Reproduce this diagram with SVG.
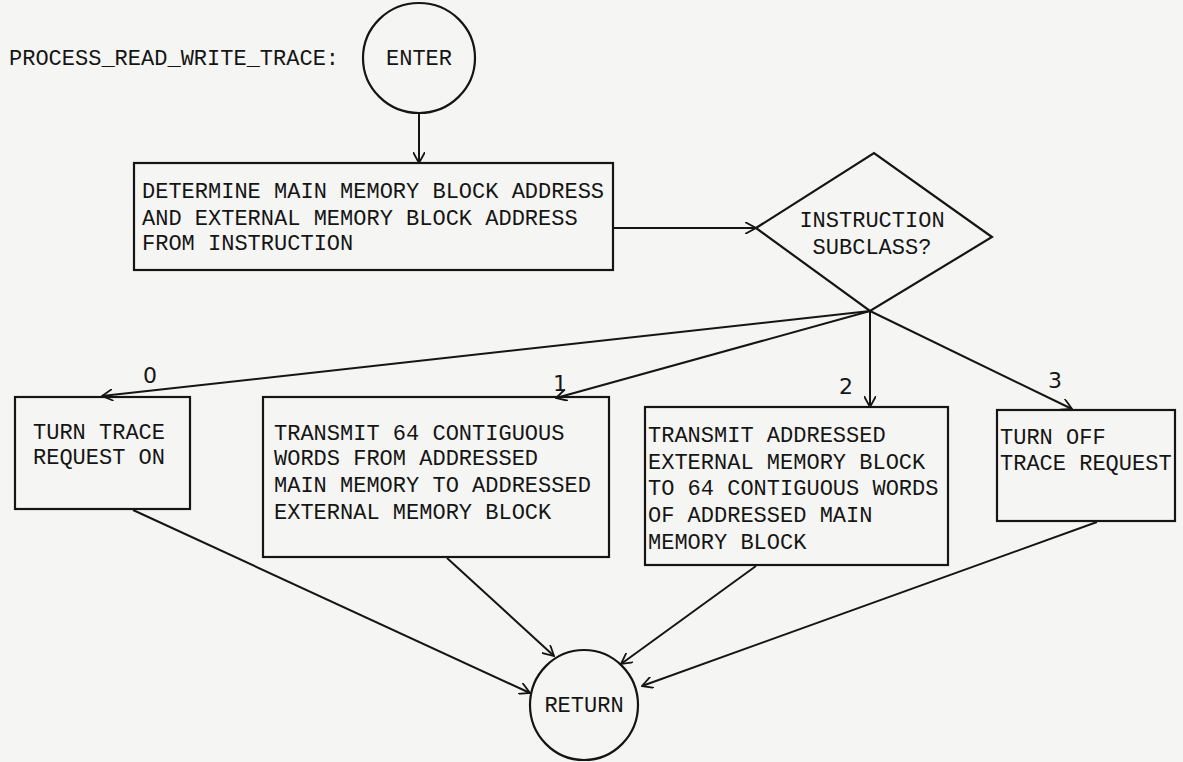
<svg xmlns="http://www.w3.org/2000/svg" width="1183" height="762" viewBox="0 0 1183 762">
  <style>
    .ln { fill: none; stroke: #151515; stroke-width: 2; }
    .shape { fill: none; stroke: #151515; stroke-width: 2.2; }
    .tx { font-family: "Liberation Mono", "DejaVu Sans Mono", monospace; font-size: 22px; fill: #151515; }
    .hand { font-family: "DejaVu Sans", sans-serif; font-size: 22px; fill: #151515; }
  </style>
  <defs>
    <marker id="arr" viewBox="0 0 12 12" refX="11" refY="6" markerWidth="12" markerHeight="12" markerUnits="userSpaceOnUse" orient="auto">
      <path d="M0,0 L11,6 L0,12" fill="none" stroke="#151515" stroke-width="1.8"/>
    </marker>
  </defs>
  <rect width="1183" height="762" fill="#f5f5f3"/>

  <text class="tx" x="9" y="65">PROCESS_READ_WRITE_TRACE:</text>

  <g id="enter">
    <ellipse class="shape" cx="419" cy="58" rx="56" ry="55"/>
    <text class="tx" x="419" y="65" text-anchor="middle">ENTER</text>
  </g>

  <g id="determine">
    <rect class="shape" x="134" y="163" width="479" height="107"/>
    <text class="tx" x="142" y="198">DETERMINE MAIN MEMORY BLOCK ADDRESS</text>
    <text class="tx" x="142" y="225">AND EXTERNAL MEMORY BLOCK ADDRESS</text>
    <text class="tx" x="142" y="250">FROM INSTRUCTION</text>
  </g>

  <g id="subclass">
    <polygon class="shape" points="756,228 874,153 992,237 870,311"/>
    <text class="tx" x="872" y="227" text-anchor="middle">INSTRUCTION</text>
    <text class="tx" x="872" y="254" text-anchor="middle">SUBCLASS?</text>
  </g>

  <g id="trace-on">
    <rect class="shape" x="15" y="397" width="175" height="112"/>
    <text class="tx" x="33" y="439">TURN TRACE</text>
    <text class="tx" x="33" y="464">REQUEST ON</text>
  </g>

  <g id="main-to-external">
    <rect class="shape" x="263" y="397" width="346" height="160"/>
    <text class="tx" x="274" y="440">TRANSMIT 64 CONTIGUOUS</text>
    <text class="tx" x="274" y="465">WORDS FROM ADDRESSED</text>
    <text class="tx" x="274" y="492">MAIN MEMORY TO ADDRESSED</text>
    <text class="tx" x="274" y="519">EXTERNAL MEMORY BLOCK</text>
  </g>

  <g id="external-to-main">
    <rect class="shape" x="645" y="407" width="303" height="158"/>
    <text class="tx" x="648" y="442">TRANSMIT ADDRESSED</text>
    <text class="tx" x="648" y="469">EXTERNAL MEMORY BLOCK</text>
    <text class="tx" x="648" y="495">TO 64 CONTIGUOUS WORDS</text>
    <text class="tx" x="648" y="522">OF ADDRESSED MAIN</text>
    <text class="tx" x="648" y="549">MEMORY BLOCK</text>
  </g>

  <g id="trace-off">
    <rect class="shape" x="997" y="410" width="178" height="111"/>
    <text class="tx" x="1000" y="444">TURN OFF</text>
    <text class="tx" x="1000" y="470">TRACE REQUEST</text>
  </g>

  <g id="return">
    <ellipse class="shape" cx="584" cy="705" rx="54" ry="55"/>
    <text class="tx" x="584" y="712" text-anchor="middle">RETURN</text>
  </g>

  <g id="connectors">
    <line class="ln" x1="419" y1="113" x2="419" y2="163" marker-end="url(#arr)"/>
    <line class="ln" x1="613" y1="228" x2="756" y2="228" marker-end="url(#arr)"/>
    <line class="ln" x1="870" y1="311" x2="102" y2="396" marker-end="url(#arr)"/>
    <line class="ln" x1="870" y1="311" x2="556" y2="398" marker-end="url(#arr)"/>
    <line class="ln" x1="870" y1="311" x2="870" y2="407" marker-end="url(#arr)"/>
    <line class="ln" x1="870" y1="311" x2="1072" y2="409" marker-end="url(#arr)"/>
    <line class="ln" x1="133" y1="510" x2="530" y2="693" marker-end="url(#arr)"/>
    <line class="ln" x1="447" y1="558" x2="554" y2="656" marker-end="url(#arr)"/>
    <line class="ln" x1="756" y1="566" x2="621" y2="664" marker-end="url(#arr)"/>
    <line class="ln" x1="1097" y1="522" x2="642" y2="686" marker-end="url(#arr)"/>
  </g>

  <g id="labels">
    <text class="hand" x="150" y="383" text-anchor="middle">0</text>
    <text class="hand" x="560" y="391" text-anchor="middle">1</text>
    <text class="hand" x="846" y="394" text-anchor="middle">2</text>
    <text class="hand" x="1055" y="388" text-anchor="middle">3</text>
  </g>
</svg>
